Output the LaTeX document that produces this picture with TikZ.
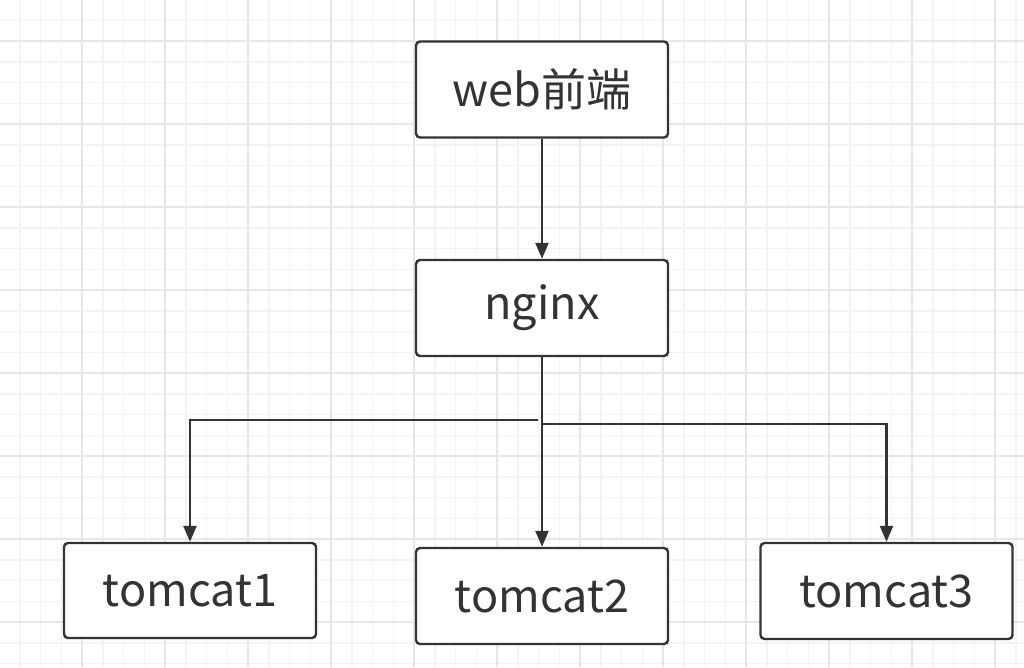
\documentclass[tikz,border=0pt]{standalone}
\usepackage{fontspec}
\setmainfont{Noto Sans CJK SC}
\usetikzlibrary{arrows.meta}
\definecolor{ink}{HTML}{333333}
\definecolor{gridminor}{HTML}{F3F3F3}
\definecolor{gridmajor}{HTML}{E6E6E6}
\tikzset{
  box/.style={draw=ink, line width=2.4pt, rounded corners=4pt, fill=white,
    minimum width=252pt, minimum height=96pt, inner sep=0pt, text=ink,
    font=\fontsize{45}{54}\selectfont},
  arr/.style={draw=ink, line width=2.4pt, -{Triangle[length=16pt,width=13pt]}},
  gminor/.style={draw=gridminor, line width=1.5pt},
  gmajor/.style={draw=gridmajor, line width=2pt}
}
\begin{document}
\begin{tikzpicture}[x=1pt,y=-1pt]
\useasboundingbox (0,0) rectangle (1024,667);
\clip (0,0) rectangle (1024,667);
\fill[white] (0,0) rectangle (1024,667);
\foreach \i in {1,...,50} {\draw[gminor] ({-1+20.75*\i},0) -- ++(0,667);}
\foreach \j in {1,...,33} {\draw[gminor] (0,{-0.5+20.75*\j}) -- ++(1024,0);}
\foreach \i in {1,...,13} {\draw[gmajor] ({-1+83*\i},0) -- ++(0,667);}
\foreach \j in {0,...,8} {\draw[gmajor] (0,{41+83*\j}) -- ++(1024,0);}

\node[box] (web) at (542,89.5) {web前端};
\node[box] (nginx) at (542,308) {nginx};
\node[box, minimum height=95pt] (t1) at (190,590.5) {tomcat1};
\node[box] (t2) at (542,596) {tomcat2};
\node[box] (t3) at (886.5,591) {tomcat3};

\coordinate (jl) at (538,420);
\coordinate (jr) at (542,424);

\draw[arr] (web) -- (nginx);
\draw[arr] (nginx) -- (t2);
\draw[arr] (jl) -| (t1);
\draw[arr] (jr) -| (t3);
\end{tikzpicture}
\end{document}
